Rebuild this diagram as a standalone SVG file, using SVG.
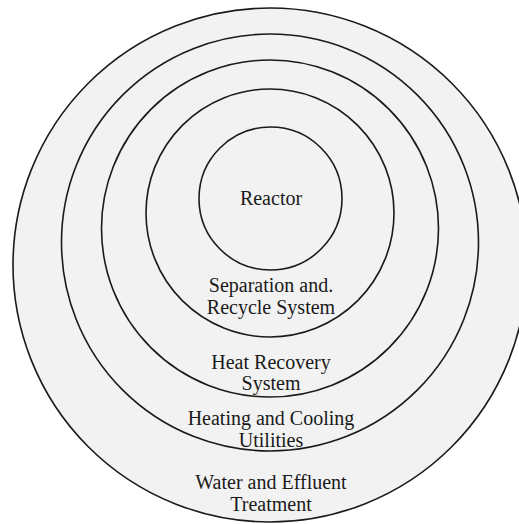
<svg xmlns="http://www.w3.org/2000/svg" width="519" height="524" viewBox="0 0 519 524">
<style>
.ring{fill:#f2f2f2;stroke:#1a1a1a;stroke-width:1.6}
.lbl{font-family:"Liberation Serif","Times New Roman",serif;font-size:20px;fill:#1a1a1a;text-anchor:middle}
</style>
<rect x="0" y="0" width="519" height="524" fill="#ffffff"/>
<g id="water-effluent">
<circle class="ring" cx="270" cy="265" r="257"/>
<text class="lbl" x="271" y="489">Water and Effluent</text>
<text class="lbl" x="271" y="511">Treatment</text>
</g>
<g id="heating-cooling">
<circle class="ring" cx="270" cy="242.5" r="208.5"/>
<text class="lbl" x="271" y="425">Heating and Cooling</text>
<text class="lbl" x="271" y="447">Utilities</text>
</g>
<g id="heat-recovery">
<circle class="ring" cx="270" cy="228.5" r="168.5"/>
<text class="lbl" x="271" y="369">Heat Recovery</text>
<text class="lbl" x="271" y="390">System</text>
</g>
<g id="separation">
<circle class="ring" cx="270" cy="213" r="124"/>
<text class="lbl" x="271" y="292">Separation and.</text>
<text class="lbl" x="271" y="314">Recycle System</text>
</g>
<g id="reactor">
<circle class="ring" cx="270.5" cy="198.5" r="71.5"/>
<text class="lbl" x="271" y="205">Reactor</text>
</g>
<g id="connectors"/>
</svg>
